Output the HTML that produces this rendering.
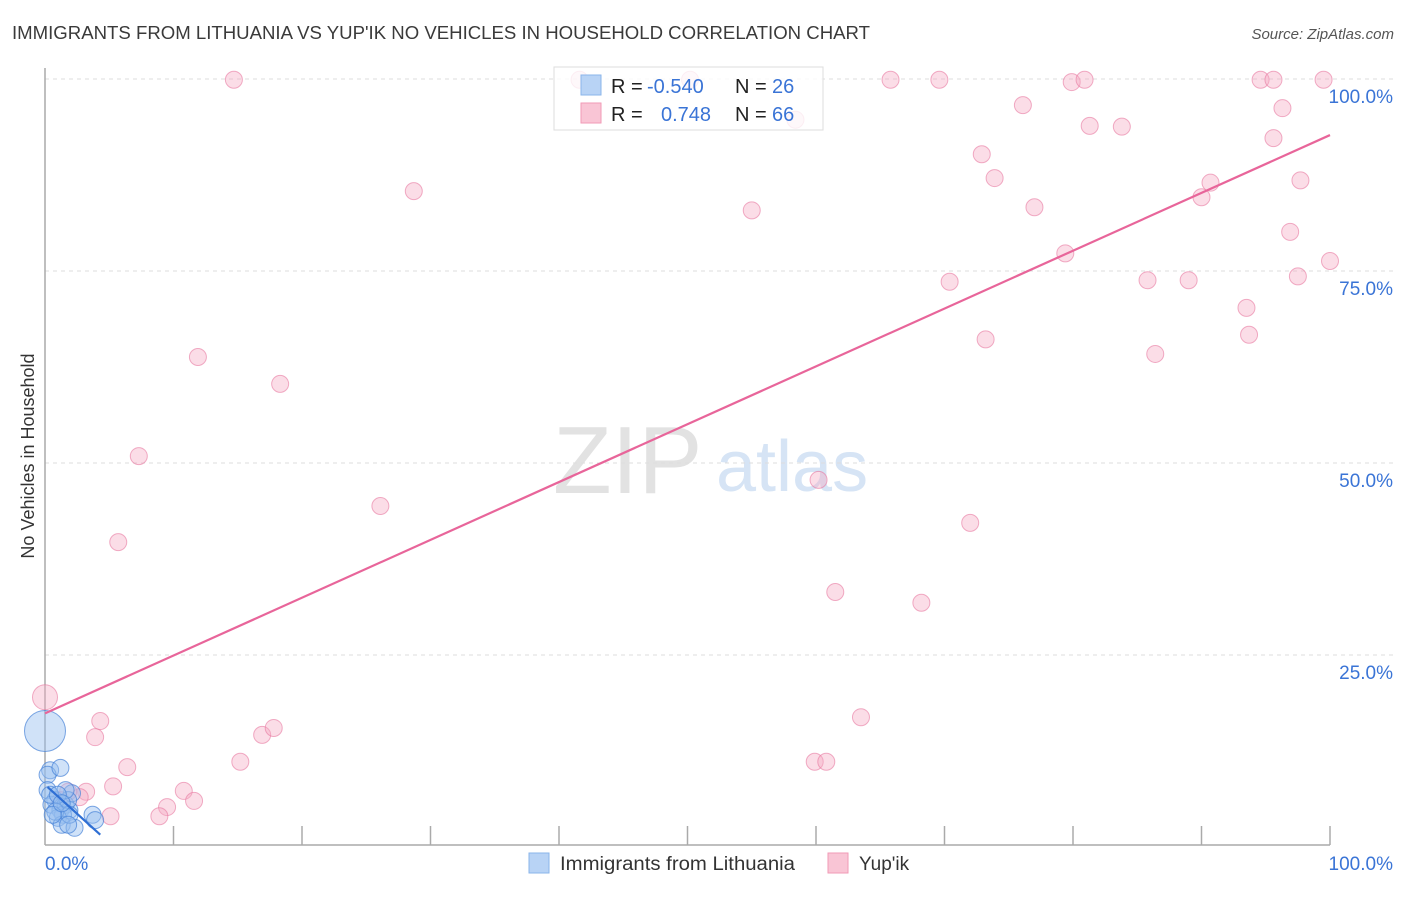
<!DOCTYPE html>
<html><head><meta charset="utf-8"><style>
body{margin:0;background:#fff;font-family:"Liberation Sans",sans-serif;}
svg text{font-family:"Liberation Sans",sans-serif;}
</style></head><body>
<svg id="chart" width="1406" height="892" xmlns="http://www.w3.org/2000/svg">
<text x="12" y="39" font-size="18" fill="#3a3a3a" textLength="858" lengthAdjust="spacingAndGlyphs">IMMIGRANTS FROM LITHUANIA VS YUP'IK NO VEHICLES IN HOUSEHOLD CORRELATION CHART</text>
<text x="1394" y="39" font-size="15" fill="#555" text-anchor="end" font-style="italic">Source: ZipAtlas.com</text>
<g>
<text x="553" y="493" font-size="96" fill="#e2e2e2" font-family="Liberation Serif,serif">ZIP</text>
<text x="716" y="491" font-size="72" fill="#d6e4f5">atlas</text>
</g>
<g id="grid"></g>
<g id="axes"></g>
<g id="marks"></g>
<text transform="translate(34,456) rotate(-90)" font-size="18" fill="#333" text-anchor="middle">No Vehicles in Household</text>
<g>
<rect x="554" y="67" width="269" height="63" fill="rgba(255,255,255,0.8)" stroke="#ddd"/>
<rect x="581" y="75" width="20" height="20" fill="#b8d3f5" stroke="#8ab4ea"/>
<rect x="581" y="103" width="20" height="20" fill="#f9c5d5" stroke="#f19ab6"/>
<text x="611" y="93" font-size="20" fill="#222">R = <tspan fill="#3a74d6" x="647">-0.540</tspan><tspan x="735">N = </tspan><tspan fill="#3a74d6" x="772">26</tspan></text>
<text x="611" y="121" font-size="20" fill="#222">R = <tspan fill="#3a74d6" x="661">0.748</tspan><tspan x="735">N = </tspan><tspan fill="#3a74d6" x="772">66</tspan></text>
</g>
<g>
<rect x="529" y="853" width="20" height="20" fill="#b8d3f5" stroke="#8ab4ea"/>
<text x="560" y="870" font-size="19" fill="#333" textLength="235" lengthAdjust="spacingAndGlyphs">Immigrants from Lithuania</text>
<rect x="828" y="853" width="20" height="20" fill="#f9c5d5" stroke="#f19ab6"/>
<text x="859" y="870" font-size="19" fill="#333">Yup'ik</text>
</g>
</svg>
<script>
const yTicks=[25,50,75,100];
const yTickLabels=["25.0%","50.0%","75.0%","100.0%"];
const xTickLabels=["0.0%","100.0%"];
const pinkX=[0,4.3,3.9,6.4,5.3,5.7,7.3,11.9,14.7,18.3,28.7,26.1,16.9,17.8,15.2,10.8,11.6,9.5,8.9,5.1,3.2,2.7,1.8,1.2,41.6,50.2,58.4,55.0,60.2,61.5,63.5,59.9,60.8,65.8,69.6,68.2,70.4,72.0,72.9,73.2,73.9,76.1,77.0,79.4,79.9,80.9,81.3,83.8,85.8,86.4,89.0,90.0,90.7,93.5,93.7,94.6,95.6,95.6,96.3,96.9,97.5,97.7,99.5,100];
const pinkY=[19.5,16.4,14.3,10.4,7.9,39.7,50.9,63.8,99.9,60.3,85.4,44.4,14.6,15.5,11.1,7.3,6.0,5.2,4.0,4.0,7.2,6.5,7.2,6.1,99.9,99.9,94.7,82.9,47.8,33.2,16.9,11.1,11.1,99.9,99.9,31.8,73.6,42.2,90.2,66.1,87.1,96.6,83.3,77.3,99.6,99.9,93.9,93.8,73.8,64.2,73.8,84.6,86.5,70.2,66.7,99.9,99.9,92.3,96.2,80.1,74.3,86.8,99.9,76.3];
const pinkSize=[12,8,8,8,8,8,8,8,8,8,8,8,8,8,8,8,8,8,8,8,8,8,8,8,8,8,8,8,8,8,8,8,8,8,8,8,8,8,8,8,8,8,8,8,8,8,8,8,8,8,8,8,8,8,8,8,8,8,8,8,8,8,8,8];
const blueX=[0,0.4,0.2,1.2,0.2,0.8,0.5,1.2,1.6,1.9,1.4,1.0,1.3,2.3,2.1,1.8,3.7,3.9,0.8,1.6,0.4,1.0,1.9,0.6,1.3,1.8];
const blueY=[15.1,10.0,9.4,10.3,7.4,6.1,5.5,4.8,5.5,4.8,4.2,3.8,2.9,2.5,7.0,6.1,4.2,3.5,4.6,7.4,6.8,6.8,4.2,4.2,5.7,2.9];
const blueSize=[20,8,8,8,8,8,8,8,8,8,8,8,8,8,8,8,8,8,8,8,8,8,8,8,8,8];
const pinkTrend=[[0,17.4],[100,92.7]];
const blueTrend=[[0.2,7.8],[4.3,1.6]];

const X0=45,X1=1330,Y0=847,Y1=79;
const sx=v=>X0+(X1-X0)*v/100;
const sy=v=>Y0-(Y0-Y1)*v/100;
const NS="http://www.w3.org/2000/svg";
function mk(tag,attrs,parent){const e=document.createElementNS(NS,tag);for(const k in attrs)e.setAttribute(k,attrs[k]);parent.appendChild(e);return e;}
const grid=document.getElementById('grid'),axes=document.getElementById('axes'),marks=document.getElementById('marks');
yTicks.forEach((t,i)=>{
  const l=mk('line',{x1:X0,x2:1394,y1:sy(t),y2:sy(t),stroke:'#ddd','stroke-dasharray':'4,4'},grid);
  
  
  const tx=mk('text',{x:1393,y:sy(t)+24,'font-size':19,fill:'#3a74d6','text-anchor':'end'},axes);
  tx.textContent=yTickLabels[i];
  
  
});
const ax=mk('line',{x1:X0,x2:X0,y1:68,y2:845,stroke:'#aaa','stroke-width':1.5},axes);


const bx=mk('line',{x1:X0,x2:X1,y1:845,y2:845,stroke:'#aaa','stroke-width':1.5},axes);


for(let i=1;i<=10;i++){
  const t=mk('line',{x1:sx(i*10),x2:sx(i*10),y1:826,y2:845,stroke:'#aaa','stroke-width':1.5},axes);
  
  
}
[[0,'start'],[100,'end']].forEach((p,i)=>{
  const t=mk('text',{x:sx(p[0])+(i?63:0),y:870,'font-size':19,fill:'#3a74d6','text-anchor':p[1]},axes);
  t.textContent=xTickLabels[i];
  
  
});
pinkX.forEach((v,i)=>{
  const c=mk('circle',{cx:sx(v),cy:sy(pinkY[i]),r:pinkSize[i]+0.5,fill:'rgba(246,170,195,0.4)',stroke:'rgba(232,120,160,0.6)'},marks);
  
  
});
blueX.forEach((v,i)=>{
  const c=mk('circle',{cx:sx(v),cy:sy(blueY[i]),r:blueSize[i]+0.5,fill:'rgba(150,190,240,0.45)',stroke:'rgba(70,130,215,0.7)'},marks);
  
  
});
const pl=mk('line',{x1:sx(pinkTrend[0][0]),y1:sy(pinkTrend[0][1]),x2:sx(pinkTrend[1][0]),y2:sy(pinkTrend[1][1]),stroke:'#e8659a','stroke-width':2.2},marks);


const bl=mk('line',{x1:sx(blueTrend[0][0]),y1:sy(blueTrend[0][1]),x2:sx(blueTrend[1][0]),y2:sy(blueTrend[1][1]),stroke:'#2f6fd4','stroke-width':2.2},marks);


</script>
</body></html>
